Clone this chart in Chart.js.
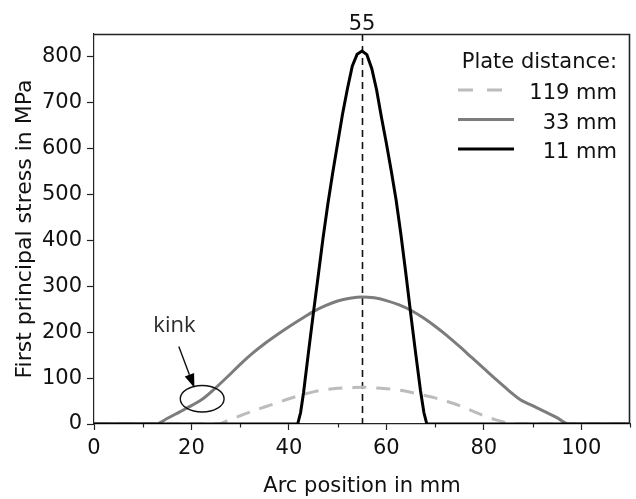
<!DOCTYPE html>
<html><head><meta charset="utf-8">
<script src="https://cdn.jsdelivr.net/npm/chart.js@4.4.0/dist/chart.umd.min.js"></script>
<style>html,body{margin:0;padding:0;background:#fff}#wrap{width:636px;height:499px}</style>
</head><body><div id="wrap"><canvas id="c" width="636" height="499"></canvas></div>
<script>
const legendTitle = 'Plate distance:';
const seriesLabels = ['119 mm', '33 mm', '11 mm'];
const xTitle = 'Arc position in mm';
const yTitle = 'First principal stress in MPa';
const markerX = 55;
const markerLabel = '55';
const kinkLabel = 'kink';

const x119 = [0, 25.5, 27.5, 30, 32.5, 35, 37.5, 40, 42.5, 45, 47.5, 50, 52.5, 55, 57.5, 60, 62.5, 65, 67.5, 70, 72.5, 75, 77.5, 80, 82.5, 85, 86, 110];
const y119 = [0, 0, 8, 18, 28, 37, 46, 55, 63, 70, 75, 78, 79, 80, 79, 77, 74, 69, 63, 57, 49, 40, 29, 18, 9, 2, 0, 0];

const x33 = [0, 12.7, 15, 17.5, 20, 22.5, 25, 27.5, 30, 32.5, 35, 37.5, 40, 42.5, 45, 47.5, 50, 52.5, 55, 57.5, 60, 62.5, 65, 67.5, 70, 72.5, 75, 77.5, 80, 82.5, 85, 87.5, 90, 92.5, 95, 97.4, 110];
const y33 = [0, 0, 12, 26, 40, 56, 79, 104, 130, 154, 175, 194, 212, 229, 245, 258, 268, 274, 277, 275, 269, 260, 248, 232, 213, 192, 169, 145, 121, 97, 74, 53, 40, 27, 14, 0, 0];

const x11 = [0, 41.8, 42.4, 43, 44, 45, 46, 47, 48, 49, 50, 51, 52, 53, 54, 55, 56, 57, 58, 59, 60, 61, 62, 63, 64, 65, 66, 67, 67.7, 68.3, 110];
const y11 = [0, 0, 25, 68, 155, 240, 322, 405, 480, 548, 612, 675, 730, 780, 806, 813, 805, 775, 728, 668, 612, 552, 488, 412, 328, 240, 155, 73, 25, 0, 0];

const xTickStep = 10, xLabelStep = 20, yTickStep = 100, yLabelMax = 800;
const xMin = 0, xMax = 110, yMin = 0, yMax = 850;

// annotation anchors in data units
const kinkText = {x: 16.5, y: 200};
const kinkEllipse = {x: 22.2, y: 55, rx: 4.5, ry: 29};
const kinkArrow = {x1: 17.4, y1: 169, x2: 20.6, y2: 79};

function pts(xs, ys) { return xs.map((x, i) => ({x: x, y: ys[i]})); }

const FONT = '"DejaVu Sans", sans-serif';
Chart.defaults.font.family = FONT;
Chart.defaults.color = '#111';

const annot = {
  id: 'annot',
  beforeDatasetsDraw(chart) {
    const {ctx, chartArea: a, scales: {x}} = chart;
    ctx.save();
    const mx = Math.round(x.getPixelForValue(markerX)) + 0.5;
    ctx.strokeStyle = '#111'; ctx.lineWidth = 1.6; ctx.setLineDash([7, 5]);
    ctx.beginPath(); ctx.moveTo(mx, a.top); ctx.lineTo(mx, a.bottom); ctx.stroke();
    ctx.restore();
  },
  afterDatasetsDraw(chart) {
    const {ctx, chartArea: a, scales: {x, y}} = chart;
    ctx.save();
    ctx.strokeStyle = '#222'; ctx.lineWidth = 1.6; ctx.setLineDash([]);
    ctx.beginPath();
    ctx.moveTo(a.left, a.top + 0.5); ctx.lineTo(a.right - 0.5, a.top + 0.5); ctx.lineTo(a.right - 0.5, a.bottom);
    ctx.stroke();
    ctx.lineWidth = 1.2;
    for (let v = xMin; v <= xMax; v += xTickStep) {
      if (v % xLabelStep === 0) continue;
      const px = Math.round(x.getPixelForValue(v)) + 0.5;
      ctx.beginPath(); ctx.moveTo(px, a.bottom); ctx.lineTo(px, a.bottom + 3.5); ctx.stroke();
    }
    ctx.fillStyle = '#111'; ctx.font = '21px ' + FONT; ctx.textAlign = 'center'; ctx.textBaseline = 'alphabetic';
    ctx.fillText(markerLabel, x.getPixelForValue(markerX), 29.5);
    const ex = x.getPixelForValue(kinkEllipse.x), ey = y.getPixelForValue(kinkEllipse.y);
    const erx = Math.abs(x.getPixelForValue(kinkEllipse.x + kinkEllipse.rx) - ex);
    const ery = Math.abs(y.getPixelForValue(kinkEllipse.y + kinkEllipse.ry) - ey);
    ctx.strokeStyle = '#111'; ctx.lineWidth = 1.4;
    ctx.beginPath(); ctx.ellipse(ex, ey, erx, ery, 0, 0, Math.PI * 2); ctx.stroke();
    const ax1 = x.getPixelForValue(kinkArrow.x1), ay1 = y.getPixelForValue(kinkArrow.y1);
    const ax2 = x.getPixelForValue(kinkArrow.x2), ay2 = y.getPixelForValue(kinkArrow.y2);
    const ang = Math.atan2(ay2 - ay1, ax2 - ax1);
    const hl = 14, hw = 5;
    const bx = ax2 - hl * Math.cos(ang), by = ay2 - hl * Math.sin(ang);
    ctx.beginPath(); ctx.moveTo(ax1, ay1); ctx.lineTo(bx, by); ctx.stroke();
    ctx.fillStyle = '#000';
    ctx.beginPath();
    ctx.moveTo(ax2, ay2);
    ctx.lineTo(bx + hw * Math.sin(ang), by - hw * Math.cos(ang));
    ctx.lineTo(bx - hw * Math.sin(ang), by + hw * Math.cos(ang));
    ctx.closePath(); ctx.fill();
    ctx.fillStyle = '#2a2a2a'; ctx.font = '22px "Open Sans", sans-serif'; ctx.textAlign = 'center';
    ctx.fillText(kinkLabel, x.getPixelForValue(kinkText.x), y.getPixelForValue(kinkText.y));
    ctx.fillStyle = '#111'; ctx.font = '21px ' + FONT; ctx.textAlign = 'right';
    const lx0 = 458, lx1 = 514, tx = 617;
    ctx.fillText(legendTitle, tx, 68);
    chart.data.datasets.forEach((ds, i) => {
      const base = 99 + i * 29.5;
      ctx.fillStyle = '#111';
      ctx.fillText(ds.label, tx, base);
      ctx.strokeStyle = ds.borderColor; ctx.lineWidth = ds.borderWidth;
      ctx.setLineDash(ds.borderDash ? [15, 14] : []);
      ctx.beginPath(); ctx.moveTo(lx0, base - 9); ctx.lineTo(lx1, base - 9); ctx.stroke();
    });
    ctx.restore();
  }
};

new Chart(document.getElementById('c'), {
  type: 'line',
  data: {
    datasets: [
      {label: seriesLabels[0], data: pts(x119, y119), borderColor: '#bcbcbc', borderWidth: 3, borderDash: [14, 10], pointRadius: 0, cubicInterpolationMode: 'monotone', order: 3},
      {label: seriesLabels[1], data: pts(x33, y33), borderColor: '#7c7c7c', borderWidth: 3, pointRadius: 0, cubicInterpolationMode: 'monotone', order: 2},
      {label: seriesLabels[2], data: pts(x11, y11), borderColor: '#000000', borderWidth: 3, pointRadius: 0, tension: 0, order: 1}
    ]
  },
  options: {
    responsive: false, animation: false, devicePixelRatio: 1,
    layout: {padding: {top: 34, right: 4, left: 0, bottom: 0}},
    plugins: {legend: {display: false}, tooltip: {enabled: false}},
    scales: {
      x: {
        type: 'linear', min: xMin, max: xMax,
        ticks: {stepSize: xTickStep, autoSkip: false, maxRotation: 0, padding: 6, color: '#111', font: {size: 21},
          callback: v => (v % xLabelStep === 0 ? String(v) : '')},
        grid: {display: true, drawOnChartArea: false, drawTicks: true, tickLength: 6, tickWidth: 1.2,
          tickColor: c => (c.tick && c.tick.value % xLabelStep === 0) ? '#222' : 'rgba(0,0,0,0)'},
        border: {display: true, color: '#222', width: 1.2},
        title: {display: true, text: xTitle, color: '#111', font: {size: 21}, padding: {top: 0, bottom: 0}},
        afterFit: s => { s.height = 75; }
      },
      y: {
        type: 'linear', min: yMin, max: yMax,
        ticks: {stepSize: yTickStep, includeBounds: false, padding: 5, color: '#111', font: {size: 21}},
        afterBuildTicks: s => {
          const t = [];
          for (let v = yMin; v <= yLabelMax; v += yTickStep) t.push({value: v});
          s.ticks = t;
        },
        grid: {display: true, drawOnChartArea: false, drawTicks: true, tickLength: 7, tickWidth: 1.2, tickColor: '#222'},
        border: {display: true, color: '#222', width: 1.2},
        title: {display: true, text: yTitle, color: '#111', font: {size: 22}, padding: {top: 12, bottom: 0}},
        afterFit: s => { s.width = 94; }
      }
    }
  },
  plugins: [annot]
});
</script></body></html>
